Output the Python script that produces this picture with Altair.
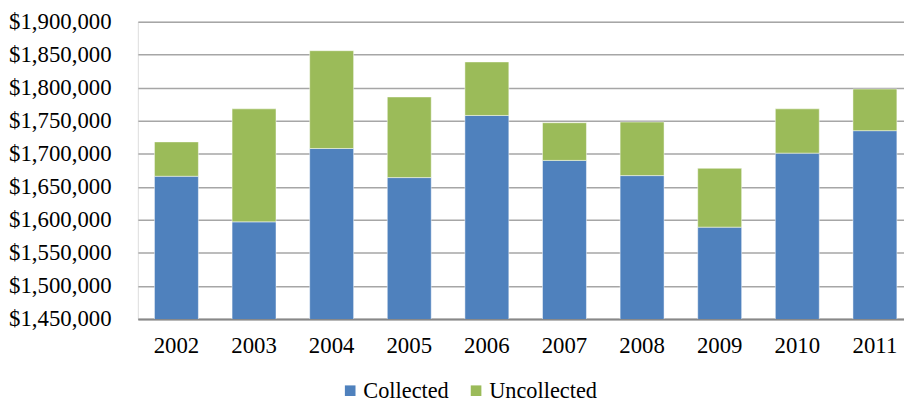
import altair as alt
import pandas as pd

years = ["2002", "2003", "2004", "2005", "2006", "2007", "2008", "2009", "2010", "2011"]
collected = [1666000, 1597000, 1708000, 1664000, 1758000, 1690000, 1667000, 1589000, 1701000, 1735000]
uncollected = [52000, 171000, 148000, 122000, 81000, 57000, 81000, 89000, 67000, 63000]
series = ["Collected", "Uncollected"]
colors = ["#4f81bd", "#9bbb59"]
y_ticks = list(range(1450000, 1900001, 50000))

rows = []
for i, y in enumerate(years):
    rows.append({"year": y, "series": series[0], "value": collected[i]})
    rows.append({"year": y, "series": series[1], "value": uncollected[i]})
df = pd.DataFrame(rows)

FONT = "Liberation Serif"

chart = alt.Chart(df).mark_bar(
    clip=True, stroke="#ffffff", strokeWidth=0.8, strokeOpacity=0.6
).encode(
    x=alt.X("year:N", sort=years, title=None,
            scale=alt.Scale(paddingInner=0.434, paddingOuter=0.153, align=0.7),
            axis=alt.Axis(labelAngle=0, labelFont=FONT, labelFontSize=23, labelColor="#000000",
                          labelPadding=16, ticks=False, domainColor="#888888", domainWidth=2,
                          grid=False)),
    y=alt.Y("value:Q", stack="zero", title=None,
            scale=alt.Scale(domain=[1450000, 1900000], nice=False, zero=False),
            axis=alt.Axis(values=y_ticks, format="$,.0f", labelFont=FONT, labelFontSize=23,
                          labelColor="#000000", labelPadding=27, ticks=False, domain=False,
                          grid=True, gridColor="#a6a6a6", gridWidth=1.5)),
    color=alt.Color("series:N", sort=series, title=None,
                    scale=alt.Scale(domain=series, range=colors),
                    legend=alt.Legend(orient="none", legendX=203, legendY=361, direction="horizontal",
                                      padding=0, symbolType="square", symbolSize=115, symbolStrokeWidth=0,
                                      labelFont=FONT, labelFontSize=22.5, labelColor="#000000",
                                      labelOffset=2, columnPadding=16)),
    order=alt.Order("series:N", sort="ascending"),
).properties(
    width=773, height=300,
    autosize="none",
    padding={"left": 131, "top": 12, "right": 0, "bottom": 82},
).configure_view(stroke=None).configure(background="#ffffff", font=FONT)

chart.save("out.html", embed_options={"renderer": "svg", "actions": False})
